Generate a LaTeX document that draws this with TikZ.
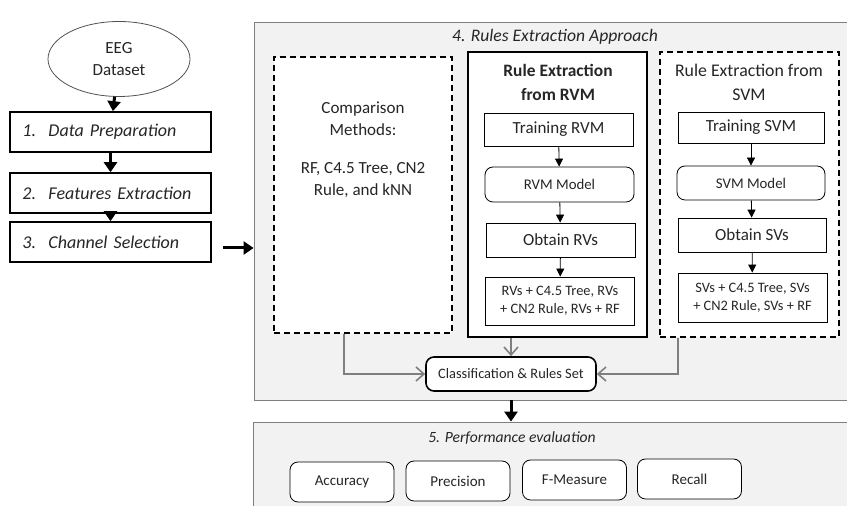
\documentclass[tikz,border=0pt]{standalone}
\usepackage{fontspec}
\setmainfont{Carlito}
\usetikzlibrary{positioning, arrows.meta, shapes.geometric}
\definecolor{panelgray}{HTML}{F2F2F2}
\definecolor{panelline}{HTML}{7F7F7F}
\definecolor{txtgray}{HTML}{262626}
\newcommand{\stepno}[1]{\makebox[13pt][l]{#1}}

\begin{document}
\begin{tikzpicture}[x=0.5pt, y=-0.5pt,
        every node/.style={text=txtgray, font=\fontsize{8.5}{11}\selectfont},
        stepbox/.style={draw, thick, fill=white, minimum width=100.5pt, minimum height=20pt, text width=88pt, align=left, font=\fontsize{9}{11}\selectfont\itshape},
        panel/.style={draw=panelline, fill=panelgray},
        dashbox/.style={draw, very thick, dash pattern=on 3pt off 2pt, fill=white},
        innerbox/.style={draw, fill=white, minimum width=74.5pt, minimum height=16.5pt},
        roundbox/.style={innerbox, rounded corners=4pt},
        evalbox/.style={draw, fill=white, rounded corners=4pt, minimum width=52pt, minimum height=20pt, font=\fontsize{7.5}{9}\selectfont},
        smallarrow/.style={-{Triangle[length=4pt, width=4pt]}},
        bigarrow/.style={line width=1.5pt, -{Triangle[length=5pt, width=6.5pt]}},
        grayarrow/.style={panelline, thick, -{Straight Barb[length=4pt, width=7pt]}}]
            \useasboundingbox (0,0) rectangle (847,506);
            \clip (0,0) rectangle (847,506);

            % left column
            \node[ellipse, draw=txtgray!80, fill=white, minimum width=71pt, minimum height=37.5pt, align=center] (eeg) at (119,59) {EEG\\Dataset};
            \node[stepbox] (prep) at (110.5,132) {\stepno{1.}Data Preparation};
            \node[stepbox] (feat) at (110.5,193) {\stepno{2.}Features Extraction};
            \node[stepbox] (chan) at (110.5,242) {\stepno{3.}Channel Selection};
            \draw[bigarrow] (eeg) -- (prep);
            \draw[bigarrow] (prep) -- (feat);
            \draw[bigarrow] (feat) -- (chan);

            % rules extraction panel
            \node[panel, minimum width=303pt, minimum height=189pt] (rules) at (557,211) {};
            \node[font=\fontsize{8.8}{11}\selectfont\itshape] (rulestitle) at (555,37) {4. Rules Extraction Approach};
            \draw[bigarrow] ([xshift=5.5pt, yshift=-3pt]chan.east) -- ([yshift=-3pt]chan.east -| rules.west);

            \node[dashbox, minimum width=89pt, minimum height=138pt] (comp) at (363,195) {};
            \node[align=center] (comptext) at (363,150) {Comparison\\Methods:\\[8pt]RF, C4.5 Tree, CN2\\Rule, and kNN};

            \node[draw, very thick, fill=white, minimum width=89.5pt, minimum height=142.5pt] (rvm) at (557.5,194.5) {};
            \node[align=center, font=\fontsize{8.7}{12}\selectfont\bfseries] (rvmtitle) at (558,82) {Rule Extraction\\from RVM};
            \node[innerbox] (trainr) at (558.5,129.5) {Training RVM};
            \node[roundbox, minimum height=17.5pt, font=\fontsize{7.4}{9}\selectfont] (modelr) at (559.5,184.5) {RVM Model};
            \node[innerbox, minimum height=17pt] (obtainr) at (560.5,240) {Obtain RVs};
            \node[innerbox, minimum height=24pt, align=center, font=\fontsize{7.2}{9}\selectfont] (combr) at (560,301) {RVs + C4.5 Tree, RVs\\+ CN2 Rule, RVs + RF};
            \draw[smallarrow] (trainr) -- (modelr);
            \draw[smallarrow] (modelr) -- (obtainr);
            \draw[smallarrow] (obtainr) -- (combr);

            \node[dashbox, minimum width=89.5pt, minimum height=142.5pt] (svm) at (749.5,194.5) {};
            \node[align=center, font=\fontsize{8.9}{12}\selectfont] (svmtitle) at (749,82) {Rule Extraction from\\SVM};
            \node[innerbox, minimum width=73pt, minimum height=15.5pt] (trains) at (751,127.5) {Training SVM};
            \node[roundbox, minimum width=74pt, minimum height=17pt, font=\fontsize{7.4}{9}\selectfont] (models) at (751,183) {SVM Model};
            \node[innerbox, minimum width=74pt, minimum height=17pt] (obtains) at (752,235) {Obtain SVs};
            \node[innerbox, minimum height=24.5pt, align=center, font=\fontsize{7.2}{9}\selectfont] (combs) at (752.5,297.5) {SVs + C4.5 Tree, SVs\\+ CN2 Rule, SVs + RF};
            \draw[smallarrow] (trains) -- (models);
            \draw[smallarrow] (models) -- (obtains);
            \draw[smallarrow] (obtains) -- (combs);

            \node[draw, thick, fill=white, rounded corners=4pt, minimum width=85pt, minimum height=17pt, font=\fontsize{7.2}{9}\selectfont] (classif) at (511,374) {Classification \& Rules Set};
            \draw[grayarrow] ([xshift=-9.5pt]comp.south) |- (classif.west);
            \draw[grayarrow] (classif.north |- rvm.south) -- (classif.north);
            \draw[grayarrow] ([xshift=-35.75pt]svm.south) |- (classif.east);

            % performance evaluation panel
            \node[panel, minimum width=303.5pt, minimum height=49pt] (eval) at (556.5,471) {};
            \node[font=\fontsize{7.8}{10}\selectfont\itshape] (evaltitle) at (512,438) {5. Performance evaluation};
            \draw[bigarrow] (classif.south |- rules.south) -- (classif.south |- eval.north);
            \node[evalbox] (acc) at (342,482) {Accuracy};
            \node[evalbox] (prec) at (458,481) {Precision};
            \node[evalbox] (fmeas) at (574.5,480) {F-Measure};
            \node[evalbox] (recall) at (689.5,479) {Recall};
        \end{tikzpicture}
\end{document}
